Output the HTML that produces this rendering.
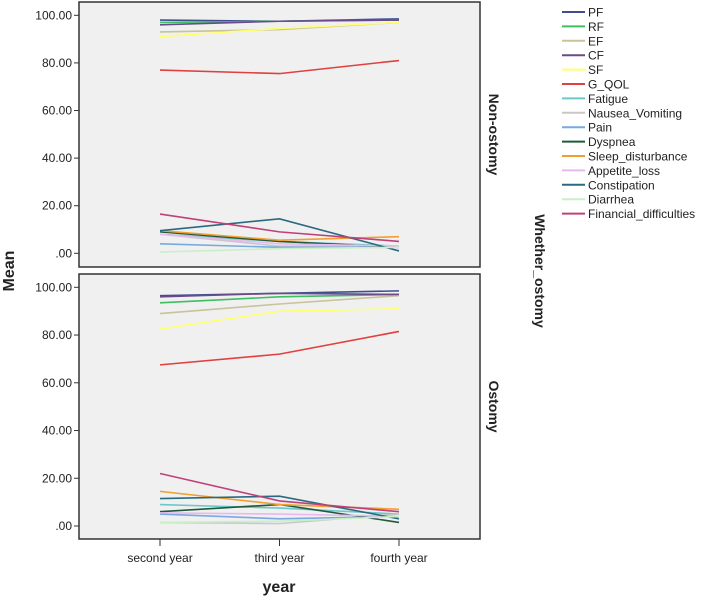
<!DOCTYPE html>
<html><head><meta charset="utf-8"><style>
body{margin:0;background:#fff;font-family:"Liberation Sans",sans-serif}
svg text{font-family:"Liberation Sans",sans-serif}
</style></head><body>
<svg id="c" width="709" height="598" xmlns="http://www.w3.org/2000/svg"></svg>
<script>
const categories=["second year","third year","fourth year"];
const seriesNames=["PF","RF","EF","CF","SF","G_QOL","Fatigue","Nausea_Vomiting","Pain","Dyspnea","Sleep_disturbance","Appetite_loss","Constipation","Diarrhea","Financial_difficulties"];
const colors=["#3d4f8f","#3fbf5f","#c8c39a","#6a4a8a","#ffff70","#e04040","#6cc8c8","#c8c8c8","#7aa8e0","#1f5a3a","#f0a030","#e8b8f0","#2a6a80","#c8f0c8","#c0407a"];
const nonOstomy=[[98,97.5,98.5],[97,97.5,98],[93,94,97],[96,97.5,98],[91,94.5,97],[77,75.5,81],[8,5,3],[8,3,3],[4,2.5,2.5],[9,5,2.5],[9.5,5.5,7],[8,4,3],[9.5,14.5,1],[0.5,2,2.5],[16.5,9,5]];
const ostomy=[[96.5,97.5,98.5],[93.5,96,97],[89,93,96.5],[96,97.5,97],[82.5,90,91],[67.5,72,81.5],[9,7.5,5],[1.5,1,5],[5,3,4],[6,9,1.5],[14.5,9,7],[5.5,5,4],[11.5,12.5,3],[1.5,2,4],[22,10.5,6]];
const yTicks=[0,20,40,60,80,100];
const yTickLabels=[".00","20.00","40.00","60.00","80.00","100.00"];
const NS="http://www.w3.org/2000/svg";
const svg=document.getElementById('c');
function mk(t,a,txt){const e=document.createElementNS(NS,t);for(const k in a)e.setAttribute(k,a[k]);if(txt!=null)e.textContent=txt;svg.appendChild(e);return e;}
const xPos=i=>160+i*119.5;
const panels=[{name:"non-ostomy",data:nonOstomy,top:2,bot:267,y100:15.3,y0:253.3,label:"Non-ostomy"},{name:"ostomy",data:ostomy,top:274,bot:539,y100:287.3,y0:526,label:"Ostomy"}];
panels.forEach(p=>{
  const yS=v=>p.y0+(p.y100-p.y0)*v/100;
  let r=mk('rect',{x:79,y:p.top,width:401,height:p.bot-p.top,fill:"#f0f0f0",stroke:"#333","stroke-width":1.5});
  
  yTicks.forEach((t,i)=>{
    const y=yS(t);
    let l=mk('line',{x1:74,x2:79,y1:y,y2:y,stroke:"#333"});
    
    let tx=mk('text',{x:72,y:y+4,"text-anchor":"end","font-size":12,fill:"#222"},yTickLabels[i]);
    
  });
  p.data.forEach((s,si)=>{
    const pts=s.map((v,i)=>xPos(i)+","+yS(v)).join(" ");
    let pl=mk('polyline',{points:pts,fill:"none",stroke:colors[si],"stroke-width":1.6});
    
  });
  const cy=(p.top+p.bot)/2;
  let lb=mk('text',{x:489,y:cy,transform:`rotate(90 489 ${cy})`,"text-anchor":"middle","font-size":14,"font-weight":"bold",fill:"#222"},p.label);
  
});
categories.forEach((c,i)=>{
  let l=mk('line',{x1:xPos(i),x2:xPos(i),y1:539,y2:546,stroke:"#333"});
  
  let t=mk('text',{x:xPos(i),y:562,"text-anchor":"middle","font-size":12,fill:"#222"},c);
  
});
let xt=mk('text',{x:279,y:592,"text-anchor":"middle","font-size":16,"font-weight":"bold",fill:"#222"},"year");

let yt=mk('text',{x:14,y:271,transform:"rotate(-90 14 271)","text-anchor":"middle","font-size":16,"font-weight":"bold",fill:"#222"},"Mean");

let wt=mk('text',{x:535,y:271,transform:"rotate(90 535 271)","text-anchor":"middle","font-size":14,"font-weight":"bold",fill:"#222"},"Whether_ostomy");

seriesNames.forEach((n,i)=>{
  const y=12+i*14.4;
  let l=mk('line',{x1:562,x2:585,y1:y,y2:y,stroke:colors[i],"stroke-width":2});
  
  let t=mk('text',{x:588,y:y+4.5,"font-size":12,fill:"#222"},n);
  
});
</script>
</body></html>
